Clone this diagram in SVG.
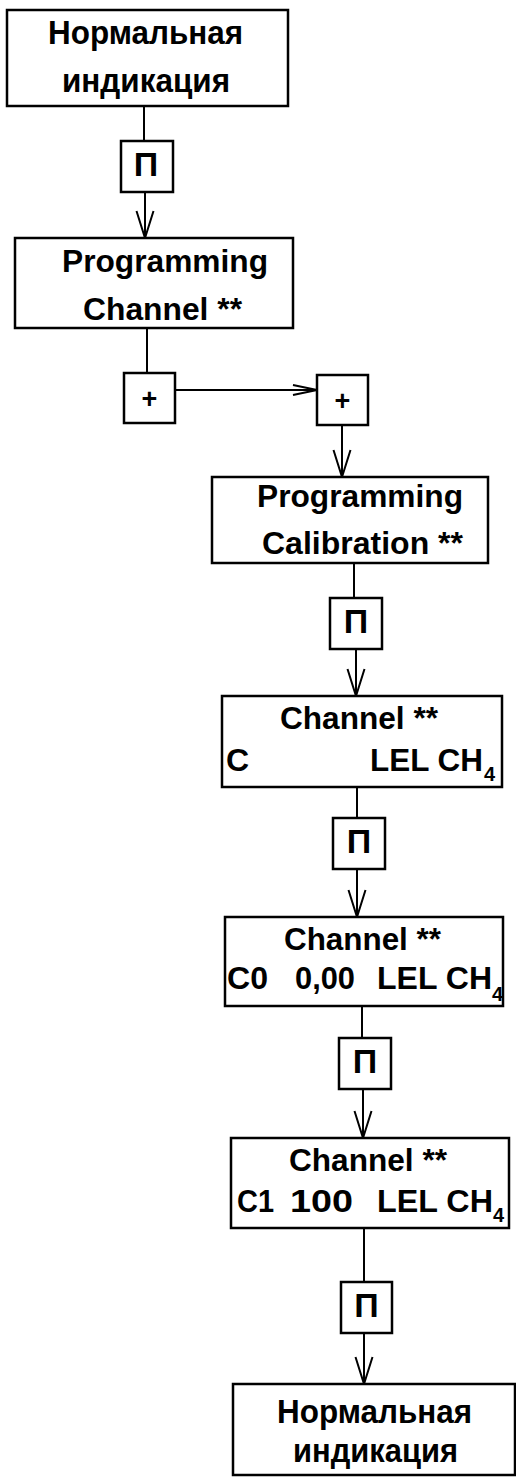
<svg xmlns="http://www.w3.org/2000/svg" width="516" height="1477" viewBox="0 0 516 1477">
<style>
.box{fill:#fff;stroke:#000;stroke-width:2.5}
.key{fill:#fff;stroke:#000;stroke-width:2.5}
.t{font-family:"Liberation Sans",Arial,sans-serif;font-weight:bold;font-size:32px;fill:#000}
.r{font-size:33px}
.k{font-family:"Liberation Sans",Arial,sans-serif;font-weight:bold;font-size:34px;fill:#000;text-anchor:middle}
.p{font-family:"Liberation Sans",Arial,sans-serif;font-weight:bold;font-size:27px;fill:#000;text-anchor:middle}
.s{font-size:20px}
.c{fill:none;stroke:#000;stroke-width:2}
</style>
<defs>
<marker id="av" markerWidth="24" markerHeight="32" refX="12" refY="29" orient="0" markerUnits="userSpaceOnUse">
<path d="M3.500,2 L12,29 L20.500,2" fill="none" stroke="#000" stroke-width="2"/>
</marker>
<marker id="ah" markerWidth="30" markerHeight="16" refX="26" refY="8" orient="0" markerUnits="userSpaceOnUse">
<path d="M2,3 L26,8 L2,13" fill="none" stroke="#000" stroke-width="2"/>
</marker>
</defs>
<g id="connectors">
<path class="c" d="M144,106 V141"/>
<path class="c" d="M145,192 V238" marker-end="url(#av)"/>
<path class="c" d="M147,328 V373"/>
<path class="c" d="M175,390 H317" marker-end="url(#ah)"/>
<path class="c" d="M342,425 V477" marker-end="url(#av)"/>
<path class="c" d="M354,563 V598"/>
<path class="c" d="M356,649 V696" marker-end="url(#av)"/>
<path class="c" d="M357,787 V818"/>
<path class="c" d="M357,869 V917" marker-end="url(#av)"/>
<path class="c" d="M362,1006 V1038"/>
<path class="c" d="M363,1089 V1138" marker-end="url(#av)"/>
<path class="c" d="M364,1228 V1282"/>
<path class="c" d="M364,1333 V1384" marker-end="url(#av)"/>
</g>
<g id="n1">
<rect class="box" x="7" y="10" width="281" height="96"/>
<text class="t r" x="48" y="44" textLength="195" lengthAdjust="spacingAndGlyphs">Нормальная</text>
<text class="t r" x="62" y="92" textLength="168" lengthAdjust="spacingAndGlyphs">индикация</text>
</g>
<g id="k1">
<rect class="key" x="121" y="141" width="52" height="51"/>
<text class="k" x="146" y="176">П</text>
</g>
<g id="n2">
<rect class="box" x="15" y="238" width="278" height="90"/>
<text class="t" x="62" y="272" textLength="206" lengthAdjust="spacingAndGlyphs">Programming</text>
<text class="t" x="83" y="320" textLength="159" lengthAdjust="spacingAndGlyphs">Channel **</text>
</g>
<g id="plus1">
<rect class="key" x="124" y="373" width="51" height="50"/>
<text class="p" x="149.500" y="408">+</text>
</g>
<g id="plus2">
<rect class="key" x="317" y="375" width="51" height="50"/>
<text class="p" x="342.500" y="410">+</text>
</g>
<g id="n3">
<rect class="box" x="212" y="477" width="276" height="86"/>
<text class="t" x="257" y="507" textLength="206" lengthAdjust="spacingAndGlyphs">Programming</text>
<text class="t" x="262" y="554" textLength="201" lengthAdjust="spacingAndGlyphs">Calibration **</text>
</g>
<g id="k2">
<rect class="key" x="330" y="598" width="52" height="51"/>
<text class="k" x="356" y="633">П</text>
</g>
<g id="n4">
<rect class="box" x="222" y="696" width="280" height="91"/>
<text class="t" x="280" y="729" textLength="158" lengthAdjust="spacingAndGlyphs">Channel **</text>
<text class="t" x="226" y="771">C</text>
<text class="t" x="370" y="771" textLength="113" lengthAdjust="spacingAndGlyphs">LEL CH</text>
<text class="t s" x="484" y="781">4</text>
</g>
<g id="k3">
<rect class="key" x="333" y="818" width="52" height="51"/>
<text class="k" x="359" y="853">П</text>
</g>
<g id="n5">
<rect class="box" x="225" y="917" width="278" height="89"/>
<text class="t" x="284" y="950" textLength="157" lengthAdjust="spacingAndGlyphs">Channel **</text>
<text class="t" x="227" y="989" textLength="41" lengthAdjust="spacingAndGlyphs">C0</text>
<text class="t" x="295" y="989" textLength="60" lengthAdjust="spacingAndGlyphs">0,00</text>
<text class="t" x="377" y="989" textLength="115" lengthAdjust="spacingAndGlyphs">LEL CH</text>
<text class="t s" x="492" y="1001">4</text>
</g>
<g id="k4">
<rect class="key" x="339" y="1038" width="52" height="51"/>
<text class="k" x="365" y="1073">П</text>
</g>
<g id="n6">
<rect class="box" x="231" y="1138" width="278" height="90"/>
<text class="t" x="289" y="1171" textLength="158" lengthAdjust="spacingAndGlyphs">Channel **</text>
<text class="t" x="237" y="1212" textLength="37" lengthAdjust="spacingAndGlyphs">C1</text>
<text class="t" x="290" y="1212" textLength="63" lengthAdjust="spacingAndGlyphs">100</text>
<text class="t" x="377" y="1212" textLength="116" lengthAdjust="spacingAndGlyphs">LEL CH</text>
<text class="t s" x="493" y="1222">4</text>
</g>
<g id="k5">
<rect class="key" x="341" y="1282" width="51" height="51"/>
<text class="k" x="366.500" y="1317">П</text>
</g>
<g id="n7">
<rect class="box" x="233" y="1384" width="282" height="91"/>
<text class="t r" x="277" y="1423" textLength="195" lengthAdjust="spacingAndGlyphs">Нормальная</text>
<text class="t r" x="293" y="1462" textLength="165" lengthAdjust="spacingAndGlyphs">индикация</text>
</g>
</svg>
